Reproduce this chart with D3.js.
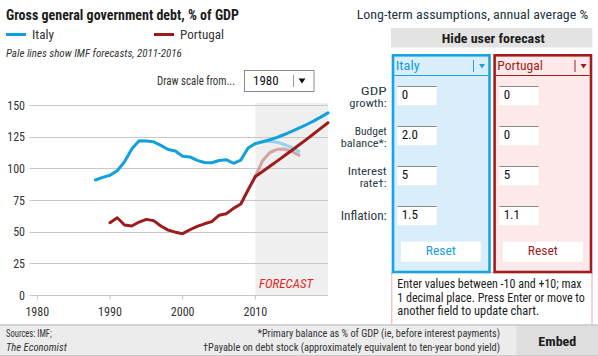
<!DOCTYPE html>
<html><head><meta charset="utf-8">
<script src="https://cdn.jsdelivr.net/npm/d3@7"></script>
<style>
html,body{margin:0;padding:0;background:#fff;}
svg{display:block;}
</style></head>
<body>
<svg id="c" width="598" height="356"></svg>
<script>
// ---------- DATA ----------
const italyYears = [1988,1989,1990,1991,1992,1993,1994,1995,1996,1997,1998,1999,2000,2001,2002,2003,2004,2005,2006,2007,2008,2009,2010];
const italyDebt  = [90.8,92.9,94.5,98.1,105.2,115.2,121.8,121.5,120.9,118.1,114.9,113.7,109.6,109.0,106.3,104.6,104.4,106.2,106.8,104.0,106.5,116.0,119.5];
const portugalYears = [1990,1991,1992,1993,1994,1995,1996,1997,1998,1999,2000,2001,2002,2003,2004,2005,2006,2007,2008,2009,2010];
const portugalDebt  = [57.1,61.0,55.3,54.5,57.6,59.7,58.7,54.5,51.2,49.6,48.4,51.5,54.2,56.2,57.9,62.9,64.2,68.4,71.8,82.9,93.5];
const userYears = [2010,2011,2012,2013,2014,2015,2016,2017,2018,2019,2020];
const italyUser    = [119.5,121.0,122.6,124.5,126.7,129.1,131.7,134.4,137.3,140.4,143.8];
const portugalUser = [93.5,97.5,101.6,105.7,109.9,114.1,118.4,122.7,127.1,131.5,136.0];
const imfYears = [2010,2011,2012,2013,2014,2015,2016];
const italyIMF    = [119.5,121.0,121.4,120.6,118.8,116.3,113.4];
const portugalIMF = [93.5,106.0,112.5,115.0,115.2,113.3,110.4];
const yTicks = [0,25,50,75,100,125,150];
const xTicks = [1980,1990,2000,2010];
const countries = ["Italy","Portugal"];
const rowLabels = [["GDP","growth:"],["Budget","balance*:"],["Interest","rate\u2020:"],["Inflation:"]];
const italyInputs = ["0","2.0","5","1.5"];
const portugalInputs = ["0","0","5","1.1"];
const noteLines = ["Enter values between -10 and +10; max","1 decimal place. Press Enter or move to","another field to update chart."];

// ---------- STYLE ----------
const F = "'Liberation Sans Narrow','Roboto Condensed','DejaVu Sans Condensed','Open Sans',sans-serif";
const BLUE="#12a0dc", PALEBLUE="#92d2ef", RED="#9c1c1c", PALERED="#d3a2a2";
const svg = d3.select("#c").style("font-family",F);

function fit(t,w){
  const L=t.node().getComputedTextLength();
  if(Math.abs(L-w)>0.03*w) t.attr("textLength",w).attr("lengthAdjust","spacingAndGlyphs");
  return t;
}
function txt(x,y,s,o={}){
  const t=svg.append("text").attr("x",x).attr("y",y).text(s)
    .attr("font-size",o.size||12).attr("fill",o.fill||"#333")
    .attr("font-weight",o.bold?"bold":"normal")
    .attr("font-style",o.italic?"italic":"normal")
    .attr("text-anchor",o.anchor||"start");
  if(o.w) fit(t,o.w);
  return t;
}

// ---------- SCALES ----------
const x = d3.scaleLinear().domain([1980,2020]).range([37.3,328]);
const y = d3.scaleLinear().domain([0,150]).range([295,105]);

// ---------- LEFT: titles ----------
txt(6,19.5,"Gross general government debt, % of GDP",{size:14,bold:true,fill:"#1c1c1c",w:236});
svg.append("rect").attr("x",6).attr("y",33).attr("width",20).attr("height",3).attr("fill",BLUE);
txt(32,39,countries[0],{size:12.5,w:22});
svg.append("rect").attr("x",154).attr("y",33).attr("width",20).attr("height",3).attr("fill",RED);
txt(180,39,countries[1],{size:12.5,w:44});
txt(6,57,"Pale lines show IMF forecasts, 2011-2016",{size:11,italic:true,w:179});
txt(157,84.5,"Draw scale from...",{size:12,w:78});
svg.append("rect").attr("x",244.5).attr("y",70.5).attr("width",69.5).attr("height",21).attr("fill","#fff").attr("stroke","#8a8a8a");
txt(253,85,"1980",{size:13,fill:"#111",w:25});
svg.append("line").attr("x1",293.5).attr("x2",293.5).attr("y1",75).attr("y2",87).attr("stroke","#999");
svg.append("path").attr("d","M298.5,78.5 L305.5,78.5 L302,83.5 Z").attr("fill","#111");

// ---------- CHART ----------
const g = svg.append("g");
g.append("rect").attr("x",x(2010)).attr("y",103).attr("width",x(2020)-x(2010)).attr("height",295-103).attr("fill","#efefef");
g.selectAll("line.grid").data(yTicks).join("line").attr("class","grid")
  .attr("x1",29.5).attr("x2",328).attr("y1",d=>Math.round(y(d))+0.5).attr("y2",d=>Math.round(y(d))+0.5)
  .attr("stroke","#c8c8c8").attr("stroke-width",1);
g.selectAll("text.yl").data(yTicks).join("text").attr("class","yl")
  .attr("x",25).attr("y",d=>y(d)+4.5).attr("text-anchor","end").attr("font-size",12).attr("fill","#333").text(d=>d);
g.selectAll("line.xt").data(xTicks).join("line").attr("class","xt")
  .attr("x1",d=>x(d)).attr("x2",d=>x(d)).attr("y1",295.5).attr("y2",299.5).attr("stroke","#a9c6dc");
g.selectAll("text.xl").data(xTicks).join("text").attr("class","xl")
  .attr("x",d=>x(d)).attr("y",316).attr("text-anchor","middle").attr("font-size",12).attr("fill","#333").text(d=>d);
txt(259,288,"FORECAST",{size:12.5,italic:true,fill:"#e8231d",w:54});

const line = d3.line().x(d=>x(d[0])).y(d=>y(d[1]));
const zip = (a,b)=>a.map((v,i)=>[v,b[i]]);
function path(data,col,w){
  g.append("path").datum(data).attr("d",line).attr("fill","none").attr("stroke",col)
   .attr("stroke-width",w).attr("stroke-linejoin","round").attr("stroke-linecap","round");
}
path(zip(imfYears,italyIMF),PALEBLUE,3);
path(zip(imfYears,portugalIMF),PALERED,3);
path(zip(italyYears,italyDebt),BLUE,3);
path(zip(userYears,italyUser),BLUE,3);
path(zip(portugalYears,portugalDebt),RED,3);
path(zip(userYears,portugalUser),RED,3);

// ---------- RIGHT PANEL ----------
txt(356.7,18.5,"Long-term assumptions, annual average %",{size:13,fill:"#22343f",w:231.6});
svg.append("rect").attr("x",391).attr("y",28).attr("width",201.3).attr("height",19.5).attr("fill","#e3e3e3");
txt(493.3,42.5,"Hide user forecast",{size:13,bold:true,fill:"#1c1c1c",anchor:"middle",w:103});

// note box
svg.append("rect").attr("x",391.7).attr("y",272.5).attr("width",200.3).attr("height",53).attr("fill","#fff").attr("stroke","#f2c6c6").attr("stroke-width",1.5);
const noteW=[186.7,190,142];
noteLines.forEach((s,i)=>txt(397.3,288.3+i*13.4,s,{size:12,fill:"#1c1c1c",w:noteW[i]}));

const panels=[
  {name:countries[0],x:393,w:96.5,col:"#17a4df",fill:"#d9eefa",text:BLUE,vals:italyInputs,nameW:24,inX:397.3,rx:401},
  {name:countries[1],x:494.6,w:96.4,col:"#a11d1d",fill:"#fde9e9",text:"#a11d1d",vals:portugalInputs,nameW:45.6,inX:499.3,rx:503}
];
const rowTop=[86,126,166,206];
panels.forEach(p=>{
  svg.append("rect").attr("x",p.x).attr("y",55.3).attr("width",p.w).attr("height",216.7)
    .attr("fill",p.fill).attr("stroke",p.col).attr("stroke-width",2.6);
  svg.append("line").attr("x1",p.x+1.3).attr("x2",p.x+p.w-1.3).attr("y1",75.5).attr("y2",75.5).attr("stroke",p.col).attr("stroke-width",1);
  txt(p.x+2.7,70,p.name,{size:13,fill:p.text,w:p.nameW});
  const sx=p.x+p.w-16;
  svg.append("line").attr("x1",sx).attr("x2",sx).attr("y1",60).attr("y2",72).attr("stroke",p.col).attr("stroke-width",1);
  svg.append("path").attr("d",`M${sx+5.5},64 L${sx+11.5},64 L${sx+8.5},68.5 Z`).attr("fill",p.col);
  rowTop.forEach((t,i)=>{
    svg.append("rect").attr("x",p.inX).attr("y",t).attr("width",39.4).attr("height",19.3).attr("fill","#fff");
    svg.append("line").attr("x1",p.inX).attr("x2",p.inX+39.4).attr("y1",t+0.5).attr("y2",t+0.5).attr("stroke","#8c8c8c").attr("stroke-width",1.2);
    txt(p.inX+4.4,t+13.3,p.vals[i],{size:13,fill:"#111"});
  });
  svg.append("rect").attr("x",p.rx).attr("y",241.7).attr("width",79.7).attr("height",20).attr("fill","#fff");
  txt(p.rx+39.85,254.7,"Reset",{size:13,fill:p.text,anchor:"middle",w:30});
});
const labW=[[26,37.4],[33,46],[39,27]];
rowLabels.forEach((lines,i)=>{
  const t=rowTop[i];
  if(lines.length===2){
    txt(386.7,t+8.5,lines[0],{size:11.5,fill:"#2b3b45",anchor:"end",w:labW[i][0]});
    txt(386.7,t+21,lines[1],{size:11.5,fill:"#2b3b45",anchor:"end",w:labW[i][1]});
  } else {
    txt(386.7,t+13.5,lines[0],{size:12,fill:"#2b3b45",anchor:"end",w:46});
  }
});

// ---------- FOOTER ----------
svg.append("rect").attr("x",0).attr("y",325).attr("width",598).attr("height",31).attr("fill","#ececec");
svg.append("rect").attr("x",516.5).attr("y",325).attr("width",81.5).attr("height",31).attr("fill","#dedede");
svg.append("line").attr("x1",0).attr("x2",598).attr("y1",325).attr("y2",325).attr("stroke","#c9c9c9").attr("stroke-width",1.5);
svg.append("line").attr("x1",0).attr("x2",598).attr("y1",355.5).attr("y2",355.5).attr("stroke","#c9c9c9").attr("stroke-width",1);
txt(6,337.3,"Sources: IMF;",{size:11,fill:"#333",w:45.7});
txt(6,351,"The Economist",{size:11,italic:true,fill:"#333",w:60.7});
txt(500,337.3,"*Primary balance as % of GDP (ie, before interest payments)",{size:11,fill:"#333",anchor:"end",w:242.5});
txt(500,351,"\u2020Payable on debt stock (approximately equivalent to ten-year bond yield)",{size:11,fill:"#333",anchor:"end",w:297});
txt(557.3,345.5,"Embed",{size:13,bold:true,fill:"#1c1c1c",anchor:"middle",w:38});
</script>
</body></html>
